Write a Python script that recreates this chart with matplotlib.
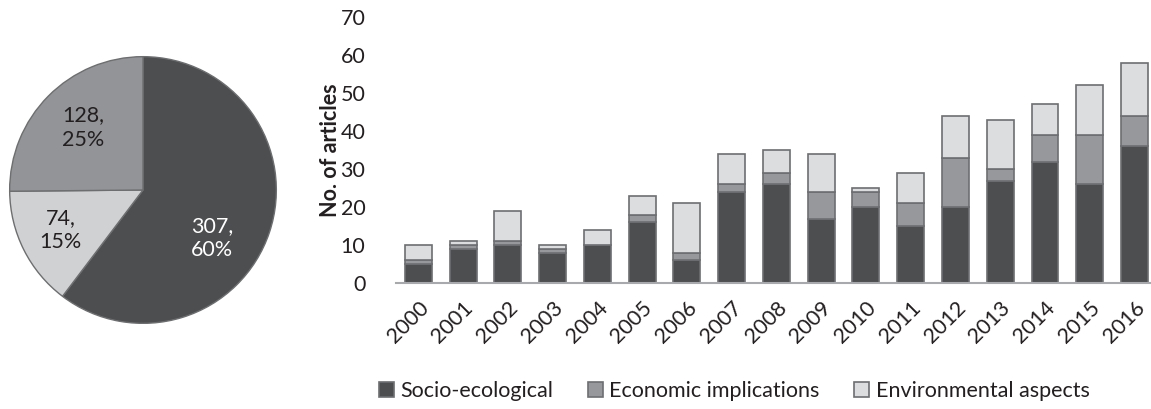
import matplotlib
matplotlib.use('Agg')
import matplotlib.pyplot as plt
import numpy as np

plt.rcParams['font.family'] = ['Lato', 'DejaVu Sans']

# data
years = ['2000', '2001', '2002', '2003', '2004', '2005', '2006', '2007', '2008',
         '2009', '2010', '2011', '2012', '2013', '2014', '2015', '2016']
socio = [5, 9, 10, 8, 10, 16, 6, 24, 26, 17, 20, 15, 20, 27, 32, 26, 36]
econ = [1, 1, 1, 1, 0, 2, 2, 2, 3, 7, 4, 6, 13, 3, 7, 13, 8]
envir = [4, 1, 8, 1, 4, 5, 13, 8, 6, 10, 1, 8, 11, 13, 8, 13, 14]

pie_vals = [307, 74, 128]
pie_cols = ['#4d4e50', '#d0d1d3', '#939497']
pie_text = ['white', '#231f20', '#231f20']

dark = '#4d4e50'
mid = '#97989b'
light = '#dcdddf'
edge = '#6d6e71'
txt = '#231f20'
fs = 15.5

fig = plt.figure(figsize=(11.51, 4.09), dpi=100)

# pie
axp = fig.add_axes([9/1151, (409-190-134)/409, 268/1151, 268/409])
wedges, _ = axp.pie(pie_vals, colors=pie_cols, startangle=90, counterclock=False,
                    wedgeprops=dict(edgecolor='#6d6e70', linewidth=1.0))
axp.set_xlim(-1.005, 1.005)
axp.set_ylim(-1.005, 1.005)
axp.set_aspect('equal')
tot = sum(pie_vals)
label_pos = [(0.52, -0.36), (-0.62, -0.30), (-0.45, 0.47)]
for v, c, (lx, ly) in zip(pie_vals, pie_text, label_pos):
    axp.text(lx, ly, '%d,\n%d%%' % (v, round(100.0 * v / tot)), ha='center', va='center',
             fontsize=fs, color=c, linespacing=1.3)

# stacked bars
ax = fig.add_axes([396/1151, (409-283.3)/409, (1151-396)/1151, (283.3-17)/409])
x = np.arange(len(years))
s = np.array(socio)
e = np.array(econ)
n = np.array(envir)
w = 0.6
ax.bar(x, s, w, color=dark, edgecolor=edge, linewidth=1.2, label='Socio-ecological')
ax.bar(x, e, w, bottom=s, color=mid, edgecolor=edge, linewidth=1.2, label='Economic implications')
ax.bar(x, n, w, bottom=s + e, color=light, edgecolor=edge, linewidth=1.2, label='Environmental aspects')

ax.set_xlim(-0.5, 16.37)
ax.set_ylim(0, 70)
ax.set_yticks(range(0, 71, 10))
ax.set_xticks(x)
ax.set_xticklabels(years, rotation=45, ha='right', rotation_mode='anchor')
ax.tick_params(axis='both', length=0, labelsize=fs, labelcolor=txt)
ax.tick_params(axis='y', pad=22)
ax.tick_params(axis='x', pad=10)
for sp in ['top', 'right', 'left']:
    ax.spines[sp].set_visible(False)
ax.spines['bottom'].set_color('#a7a9ac')
ax.spines['bottom'].set_linewidth(1.5)
ax.set_ylabel('No. of articles', fontsize=fs, fontweight='bold', color=txt, labelpad=0)

fig.legend(loc='center', bbox_to_anchor=(0.638, 1 - 391/409), ncol=3, frameon=False,
           fontsize=fs, handlelength=0.7, handleheight=0.7, handletextpad=0.3,
           columnspacing=1.6, labelcolor=txt)

fig.savefig('out.png', dpi=100)
